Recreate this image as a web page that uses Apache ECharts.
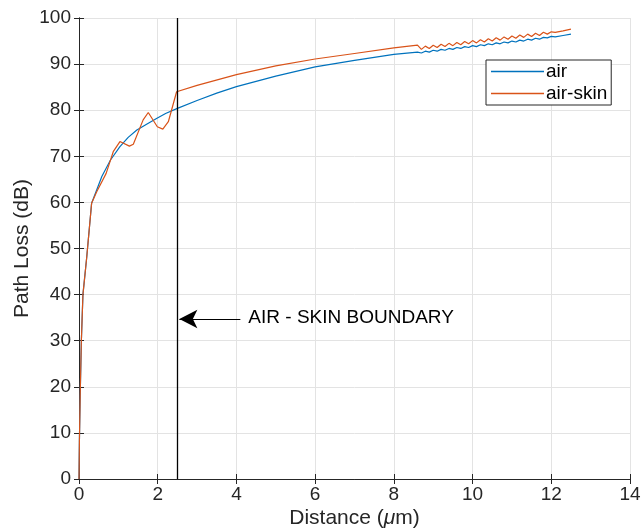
<!DOCTYPE html>
<html>
<head>
<meta charset="utf-8">
<script src="https://cdn.jsdelivr.net/npm/echarts@6/dist/echarts.min.js"></script>
<style>
html,body{margin:0;padding:0;background:#fff;}
#main{width:642px;height:531px;}
</style>
</head>
<body>
<div id="main"></div>
<script>
// distance (um) and path loss (dB)
var airX = [0, 0.01, 0.03, 0.06, 0.1, 0.195, 0.32, 0.58, 0.8, 1.04, 1.25, 1.47, 1.75, 1.97, 2.2, 2.5,
  3, 3.5, 4, 5, 6, 7, 8, 8.6,
  8.7, 8.8, 8.9, 9.0, 9.1, 9.2, 9.3, 9.4, 9.5, 9.6, 9.7, 9.8, 9.9, 10.0, 10.1, 10.2, 10.3, 10.4,
  10.5, 10.6, 10.7, 10.8, 10.9, 11.0, 11.1, 11.2, 11.3, 11.4, 11.5, 11.6, 11.7, 11.8, 11.9, 12.0,
  12.1, 12.3, 12.5];
var airY = [0, 8, 18, 30, 40, 48, 59.8, 65.6, 69.2, 72.1, 74.1, 75.7, 77.1, 78.2, 79.3, 80.4,
  82.1, 83.7, 85.1, 87.4, 89.4, 90.8, 92.1, 92.6,
  92.4, 92.8, 92.6, 93.0, 92.8, 93.2, 93.0, 93.4, 93.2, 93.6, 93.4, 93.8, 93.6, 94.0, 93.8, 94.2, 94.0, 94.4,
  94.2, 94.6, 94.4, 94.8, 94.6, 95.0, 94.8, 95.2, 95.0, 95.4, 95.2, 95.6, 95.4, 95.8, 95.7, 96.0,
  95.9, 96.2, 96.5];

var skinX = [0, 0.01, 0.03, 0.06, 0.1, 0.195, 0.32, 0.45, 0.69, 0.87, 1.04, 1.28, 1.38, 1.63, 1.76, 1.99, 2.13, 2.27, 2.48,
  3, 4, 5, 6, 7, 8, 8.6,
  8.7, 8.8, 8.9, 9.0, 9.1, 9.2, 9.3, 9.4, 9.5, 9.6, 9.7, 9.8, 9.9, 10.0, 10.1, 10.2, 10.3, 10.4,
  10.5, 10.6, 10.7, 10.8, 10.9, 11.0, 11.1, 11.2, 11.3, 11.4, 11.5, 11.6, 11.7, 11.8, 11.9, 12.0,
  12.1, 12.3, 12.5];
var skinY = [0, 8, 18, 30, 40, 48, 59.8, 62.3, 66.3, 71.0, 73.2, 72.2, 72.6, 77.9, 79.5, 76.4, 75.9, 77.5, 84.0,
  85.4, 87.7, 89.6, 91.1, 92.3, 93.5, 94.1,
  93.2, 93.9, 93.4, 94.1, 93.6, 94.3, 93.8, 94.5, 94.0, 94.7, 94.2, 94.9, 94.4, 95.1, 94.6, 95.3, 94.8, 95.5,
  95.0, 95.7, 95.2, 95.9, 95.4, 96.1, 95.6, 96.3, 95.8, 96.5, 96.0, 96.7, 96.2, 96.9, 96.5, 97.0,
  96.9, 97.2, 97.6];

var boundaryX = 2.5;
var arrowFrom = [4.1, 34.7];
var arrowTo = [2.55, 34.7];
var seriesNames = ['air', 'air-skin'];

function pairs(xs, ys) {
  return xs.map(function (x, i) { return [x, ys[i]]; });
}

var dom = document.getElementById('main');
var myChart = echarts.init(dom);

var axisColor = '#262626';
var gridColor = '#e3e3e3';
var font = 'Liberation Sans, Arial, sans-serif';

option = {
  animation: false,
  backgroundColor: '#fff',
  textStyle: { fontFamily: font },
  grid: { left: 79, right: 12, top: 18, bottom: 52, containLabel: false, outerBoundsMode: 'none' },
  legend: {
    data: seriesNames,
    orient: 'vertical',
    left: 486, top: 60,
    itemWidth: 53, itemHeight: 1.5, itemGap: 3,
    icon: 'rect',
    padding: [2, 4, 2, 5],
    borderColor: axisColor, borderWidth: 1,
    backgroundColor: '#fff',
    textStyle: { fontSize: 19, color: '#000', padding: [0, 0, 0, -3] }
  },
  xAxis: [{
    type: 'value', min: 0, max: 14, interval: 2,
    name: 'Distance ({i|μ}m)', nameLocation: 'middle', nameGap: 29, nameMoveOverlap: false,
    nameTextStyle: { fontSize: 21, color: axisColor, rich: { i: { fontStyle: 'italic', fontSize: 21, color: axisColor } } },
    axisLine: { lineStyle: { color: axisColor, width: 1 } },
    axisTick: { inside: true, length: 5, lineStyle: { color: axisColor } },
    axisLabel: { fontSize: 19, color: axisColor, margin: 6 },
    splitLine: { show: true, lineStyle: { color: gridColor } }
  }, {
    type: 'value', min: 0, max: 14, interval: 2, position: 'top',
    axisLine: { lineStyle: { color: axisColor, width: 1 } },
    axisTick: { inside: true, length: 5, lineStyle: { color: axisColor } },
    axisLabel: { show: false }, splitLine: { show: false }
  }],
  yAxis: [{
    type: 'value', min: 0, max: 100, interval: 10,
    name: 'Path Loss (dB)', nameLocation: 'middle', nameGap: 46, nameMoveOverlap: false,
    nameTextStyle: { fontSize: 21, color: axisColor },
    axisLine: { show: true, lineStyle: { color: axisColor, width: 1 } },
    axisTick: { show: true, inside: true, length: 5, lineStyle: { color: axisColor } },
    axisLabel: { fontSize: 19, color: axisColor, margin: 8 },
    splitLine: { show: true, lineStyle: { color: gridColor } }
  }, {
    type: 'value', min: 0, max: 100, interval: 10, position: 'right',
    axisLine: { show: true, lineStyle: { color: axisColor, width: 1 } },
    axisTick: { show: true, inside: true, length: 5, lineStyle: { color: axisColor } },
    axisLabel: { show: false }, splitLine: { show: false }
  }],
  series: [{
    name: seriesNames[0], type: 'line', showSymbol: false, symbol: 'none',
    color: '#0072BD', lineStyle: { width: 1.2 },
    data: pairs(airX, airY),
    z: 3
  }, {
    name: seriesNames[1], type: 'line', showSymbol: false, symbol: 'none',
    color: '#D95319', lineStyle: { width: 1.2 },
    data: pairs(skinX, skinY),
    z: 4,
    markLine: {
      silent: true,
      animation: false,
      label: { show: false },
      data: [
        [{ coord: [boundaryX, 0], symbol: 'none', lineStyle: { color: '#000', width: 1.3, type: 'solid' } },
         { coord: [boundaryX, 100], symbol: 'none' }],
        [{ coord: arrowFrom, symbol: 'none', lineStyle: { color: '#000', width: 1, type: 'solid' } },
         { coord: arrowTo, symbol: 'arrow', symbolSize: [14, 18] }]
      ]
    }
  }]
};

myChart.setOption(option);

// annotation text placed next to the arrow tail
var tail = myChart.convertToPixel({ xAxisIndex: 0, yAxisIndex: 0 }, arrowFrom);
myChart.setOption({
  graphic: [{
    type: 'text', left: tail[0] + 8, top: tail[1] - 11,
    style: { text: 'AIR - SKIN BOUNDARY', fontSize: 19, fill: '#000', fontFamily: font }
  }]
});
</script>
</body>
</html>
